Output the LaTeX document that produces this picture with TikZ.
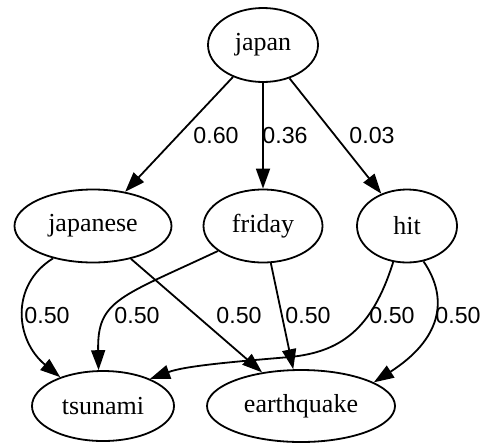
\documentclass[tikz,border=0pt]{standalone}
\usepackage{fontspec}
\setmainfont{Liberation Serif}
\newfontfamily\weightfont{Liberation Sans}
\usetikzlibrary{shapes.geometric,arrows.meta}

\begin{document}
\begin{tikzpicture}[x=0.5pt, y=-0.5pt,
        word/.style={draw=black, ellipse, line width=0.9pt, inner sep=0pt, font=\fontsize{13}{15}\selectfont},
        link/.style={draw=black, line width=0.9pt, -{Triangle[length=10pt, width=7pt]}},
        weight/.style={black, inner sep=0pt, font=\weightfont\fontsize{11.6}{14}\selectfont}]
        \useasboundingbox (0,0) rectangle (486,445);

	\node[word, minimum width=55pt, minimum height=37pt] (japan) at (263,45) {japan};

	\node[word, minimum width=78.5pt, minimum height=36.5pt] (japanese) at (93,226) {japanese};
	\node[word, minimum width=59.5pt, minimum height=36.5pt] (friday) at (263,226) {friday};
	\node[word, minimum width=50pt, minimum height=36.5pt] (hit) at (407,226) {hit};

	\node[word, minimum width=71pt, minimum height=35pt] (tsunami) at (103,406) {tsunami};
	\node[word, minimum width=94pt, minimum height=36pt] (earthquake) at (301,406) {earthquake};

	\draw[link] (japan) -- (japanese);
	\draw[link] (japan) -- (friday);
	\draw[link] (japan) -- (hit);

	\draw[link] (japanese.219) .. controls (10,285) and (15,340) .. (tsunami.146);
	\draw[link] (japanese) -- (earthquake);

	\draw[link] (friday.209) .. controls (120,297) and (97,300) .. (tsunami.97);
	\draw[link] (friday) -- (earthquake);

	\draw[link] (hit.249) .. controls (372,330) and (340,352) .. (290,357)
	        .. controls (230,362) and (185,366) .. (tsunami.30);
	\draw[link] (hit.295) .. controls (450,300) and (440,340) .. (earthquake.18);

        \node[weight] (w-japanese) at (216,136) {0.60};
        \node[weight] (w-friday) at (285,136) {0.36};
        \node[weight] (w-hit) at (372,136) {0.03};

        \node[weight] (w-japanese-tsunami) at (47,316) {0.50};
        \node[weight] (w-friday-tsunami) at (137,316) {0.50};
        \node[weight] (w-japanese-earthquake) at (239,316) {0.50};
        \node[weight] (w-friday-earthquake) at (308,316) {0.50};
        \node[weight] (w-hit-tsunami) at (392,316) {0.50};
        \node[weight] (w-hit-earthquake) at (458,316) {0.50};

\end{tikzpicture}
\end{document}
